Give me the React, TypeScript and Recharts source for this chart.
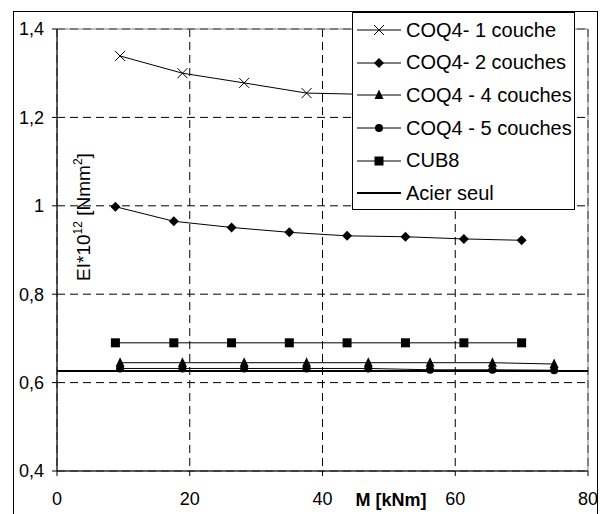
import React from "react";
import {
  CartesianGrid,
  Legend,
  Line,
  LineChart,
  ReferenceArea,
  XAxis,
  YAxis,
} from "recharts";

// M [kNm] positions (two sampling grids in the source)
const mA = [9.5, 18.9, 28.2, 37.6, 46.9, 56.2, 65.6, 74.9];
const mB = [8.8, 17.6, 26.3, 35.0, 43.7, 52.5, 61.3, 70.0];
const mAcier = [0, 80];

// EI * 10^12 [Nmm²]
const coq1 = [1.339, 1.3, 1.278, 1.255, 1.252, 1.25, 1.248, 1.247];
const coq2 = [0.998, 0.965, 0.951, 0.94, 0.932, 0.93, 0.925, 0.922];
const coq4 = [0.645, 0.645, 0.645, 0.645, 0.645, 0.645, 0.645, 0.642];
const coq5 = [0.632, 0.632, 0.632, 0.632, 0.632, 0.629, 0.629, 0.628];
const cub8 = [0.69, 0.69, 0.69, 0.69, 0.69, 0.69, 0.69, 0.69];
const acier = [0.626, 0.626];

const xTicks = [0, 20, 40, 60, 80];
const yTicks = [0.4, 0.6, 0.8, 1, 1.2, 1.4];

const FONT = "'Liberation Sans', Arial, sans-serif";

type Shape = "cross" | "diamond" | "triangle" | "circle" | "square" | "none";

const zip = (xs: number[], ys: number[]) => xs.map((x, i) => ({ x, y: ys[i] }));

const series: { name: string; data: { x: number; y: number }[]; shape: Shape; width: number }[] = [
  { name: "COQ4- 1 couche", data: zip(mA, coq1), shape: "cross", width: 1 },
  { name: "COQ4- 2 couches", data: zip(mB, coq2), shape: "diamond", width: 1 },
  { name: "COQ4 - 5 couches", data: zip(mA, coq5), shape: "circle", width: 1 },
  { name: "COQ4 - 4 couches", data: zip(mA, coq4), shape: "triangle", width: 1 },
  { name: "CUB8", data: zip(mB, cub8), shape: "square", width: 1 },
  { name: "Acier seul", data: zip(mAcier, acier), shape: "none", width: 2 },
];

const legendOrder = [
  "COQ4- 1 couche",
  "COQ4- 2 couches",
  "COQ4 - 4 couches",
  "COQ4 - 5 couches",
  "CUB8",
  "Acier seul",
];

function Marker({ shape, cx, cy }: { shape: Shape; cx: number; cy: number }) {
  switch (shape) {
    case "cross":
      return (
        <path
          d={`M${cx - 5},${cy - 5}L${cx + 5},${cy + 5}M${cx - 5},${cy + 5}L${cx + 5},${cy - 5}`}
          stroke="#000"
          strokeWidth={1}
          fill="none"
        />
      );
    case "diamond":
      return <path d={`M${cx},${cy - 5}L${cx + 5},${cy}L${cx},${cy + 5}L${cx - 5},${cy}Z`} fill="#000" />;
    case "triangle":
      return <path d={`M${cx},${cy - 5.5}L${cx + 4.5},${cy + 4}L${cx - 4.5},${cy + 4}Z`} fill="#000" />;
    case "circle":
      return <circle cx={cx} cy={cy} r={4} fill="#000" />;
    case "square":
      return <rect x={cx - 4.5} y={cy - 4.5} width={9} height={9} fill="#000" />;
    default:
      return null;
  }
}

const dotFor = (shape: Shape) =>
  shape === "none"
    ? false
    : (p: any) => (
        <g key={`d-${shape}-${p.index}`}>
          <Marker shape={shape} cx={p.cx} cy={p.cy} />
        </g>
      );

function LegendBox() {
  return (
    <div
      style={{
        width: 221,
        height: 195,
        border: "1px solid #000",
        background: "#fff",
        fontFamily: FONT,
        fontSize: 20,
        color: "#000",
        paddingTop: 1,
        boxSizing: "content-box",
      }}
    >
      {legendOrder.map((name) => {
        const s = series.find((d) => d.name === name)!;
        return (
          <div key={name} style={{ height: 32.6, display: "flex", alignItems: "center" }}>
            <svg width={52} height={14} style={{ flex: "none" }}>
              <line x1={4} x2={48} y1={7} y2={7} stroke="#000" strokeWidth={s.width} />
              <Marker shape={s.shape} cx={26} cy={7} />
            </svg>
            <span style={{ whiteSpace: "nowrap", marginLeft: 1 }}>{name}</span>
          </div>
        );
      })}
    </div>
  );
}

const fmt = (v: number) => String(v).replace(".", ",");

export default function App() {
  return (
    <div
      style={{
        position: "fixed",
        left: 0,
        top: 0,
        width: 600,
        height: 514,
        overflow: "hidden",
        background: "#fff",
      }}
    >
      <div
        style={{
          position: "absolute",
          left: 13,
          top: 11,
          width: 583,
          height: 520,
          border: "1px solid #000",
        }}
      />
      <div style={{ position: "absolute", left: 0, top: 0 }}>
        <LineChart width={600} height={514} margin={{ top: 29, right: 12, bottom: 13, left: 0 }}>
          <CartesianGrid stroke="#000" strokeDasharray="8 5" />
          <ReferenceArea x1={0} x2={80} y1={0.4} y2={1.4} fill="none" stroke="#808080" />
          <XAxis
            type="number"
            dataKey="x"
            domain={[0, 80]}
            ticks={xTicks}
            height={30}
            tickSize={5}
            tickMargin={16}
            axisLine={{ stroke: "#000" }}
            tickLine={{ stroke: "#000" }}
            tick={{ fill: "#000", fontSize: 18, fontFamily: FONT }}
          />
          <YAxis
            type="number"
            domain={[0.4, 1.4]}
            ticks={yTicks}
            width={57}
            tickSize={5}
            tickMargin={8}
            tickFormatter={fmt}
            axisLine={{ stroke: "#000" }}
            tickLine={{ stroke: "#000" }}
            tick={{ fill: "#000", fontSize: 18, fontFamily: FONT }}
          />
          {series.map((s) => (
            <Line
              key={s.name}
              data={s.data}
              dataKey="y"
              name={s.name}
              type="linear"
              stroke="#000"
              strokeWidth={s.width}
              dot={dotFor(s.shape)}
              activeDot={false}
              isAnimationActive={false}
            />
          ))}
          <Legend
            layout="vertical"
            align="center"
            verticalAlign="middle"
            wrapperStyle={{ left: 352, top: 12, width: 223, height: 197 }}
            content={() => <LegendBox />}
          />
        </LineChart>
      </div>
      <div
        style={{
          position: "absolute",
          left: 84,
          top: 217,
          transform: "translate(-50%, -50%) rotate(-90deg)",
          fontFamily: FONT,
          fontSize: 19,
          whiteSpace: "nowrap",
          color: "#000",
        }}
      >
        EI*10<span style={{ fontSize: 12, position: "relative", top: -8 }}>12</span> [Nmm
        <span style={{ fontSize: 12, position: "relative", top: -8 }}>2</span>]
      </div>
      <div
        style={{
          position: "absolute",
          left: 391,
          top: 500,
          transform: "translate(-50%, -50%)",
          fontFamily: FONT,
          fontSize: 18,
          fontWeight: "bold",
          whiteSpace: "nowrap",
          color: "#000",
        }}
      >
        M [kNm]
      </div>
    </div>
  );
}
